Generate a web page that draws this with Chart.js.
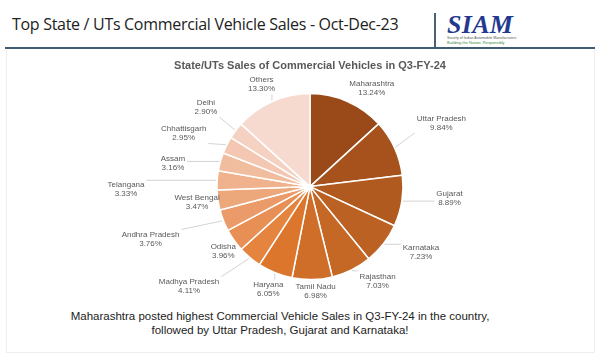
<!DOCTYPE html>
<html>
<head>
<meta charset="utf-8">
<script src="https://cdn.jsdelivr.net/npm/chart.js@4"></script>
<style>
  body { margin: 0; width: 600px; height: 360px; background: #fff; position: relative; overflow: hidden; font-family: "Liberation Sans", Arial, sans-serif; }
  #head { position: absolute; left: 12px; top: 13px; font-family: "Open Sans", sans-serif; font-size: 16px; color: #222; letter-spacing: -0.3px; white-space: nowrap; }
  #sep { position: absolute; left: 434px; top: 13px; width: 1.5px; height: 35px; background: #4a6076; }
  #rule { position: absolute; left: 5px; top: 47px; width: 590px; height: 2px; background: #3f5a73; }
  #box { position: absolute; left: 6px; top: 50px; width: 587px; height: 302px; border: 1px solid #eeeeee; border-top: none; }
  #logo { position: absolute; left: 447px; top: 13px; width: 72px; }
  #logo .big { font-family: "Liberation Serif", serif; font-style: italic; font-weight: bold; font-size: 26px; color: #23388f; line-height: 23px; letter-spacing: 0.3px; }
  #logo .s1 { font-size: 3.6px; color: #555; line-height: 4px; white-space: nowrap; }
  #logo .s2 { font-size: 4px; color: #3b8a3e; line-height: 5px; white-space: nowrap; }
  #cv { position: absolute; left: 60px; top: 56px; }
  #cap { position: absolute; left: 60px; width: 440px; top: 309px; text-align: center; font-size: 11.5px; line-height: 14px; color: #222; }
</style>
</head>
<body>
<div id="head">Top State / UTs Commercial Vehicle Sales - Oct-Dec-23</div>
<div id="sep"></div>
<div id="logo"><div class="big">SIAM</div><div class="s1">Society of Indian Automobile Manufacturers</div><div class="s2">Building the Nation, Responsibly</div></div>
<div id="rule"></div>
<div id="box"></div>
<canvas id="cv" width="500" height="250" style="width:500px;height:250px"></canvas>
<div id="cap">Maharashtra posted highest Commercial Vehicle Sales in Q3-FY-24 in the country,<br>followed by Uttar Pradesh, Gujarat and Karnataka!</div>
<script>
const states = ['Maharashtra', 'Uttar Pradesh', 'Gujarat', 'Karnataka', 'Rajasthan', 'Tamil Nadu', 'Haryana',
  'Madhya Pradesh', 'Odisha', 'Andhra Pradesh', 'West Bengal', 'Telangana', 'Assam', 'Chhattisgarh', 'Delhi', 'Others'];
const shares = [13.24, 9.84, 8.89, 7.23, 7.03, 6.98, 6.05, 4.11, 3.96, 3.76, 3.47, 3.33, 3.16, 2.95, 2.90, 13.30];

const sliceColors = ['#9a4a19', '#a7521c', '#b15a1f', '#bb6123', '#c56826', '#cf6e29', '#dc762d',
  '#e4843f', '#e78f55', '#ea9b69', '#eca77b', '#efb28d', '#f1bd9f', '#f3c7b1', '#f5d1c1', '#f7dacf'];

// label placement: distance from centre and angle nudge (deg)
const labelDist = [116, 146, 140, 129, 116, 105, 111, 157, 108, 168, 114, 184, 139, 137, 131, 113];
const labelNudge = [8.4, -1.1, -4, -7.2, -9.1, -1.7, 0, 10.1, -1.4, 3, 0.5, -4.6, -6, -3.7, 0.4, -1.5];

const outsideLabels = {
  id: 'outsideLabels',
  afterDatasetsDraw(chart) {
    const ctx = chart.ctx;
    const meta = chart.getDatasetMeta(0);
    ctx.save();
    ctx.font = '8px "Liberation Sans", Arial, sans-serif';
    ctx.textAlign = 'center';
    ctx.textBaseline = 'middle';
    meta.data.forEach(function (arc, i) {
      const mid = (arc.startAngle + arc.endAngle) / 2;
      const a = mid + labelNudge[i] * Math.PI / 180;
      const lx = arc.x + Math.cos(a) * labelDist[i];
      const ly = arc.y + Math.sin(a) * labelDist[i];
      const pct = shares[i].toFixed(2) + '%';
      const w = Math.max(ctx.measureText(states[i]).width, ctx.measureText(pct).width) / 2 + 2;
      const h = 10;
      const sx = arc.x + Math.cos(mid) * (arc.outerRadius + 1);
      const sy = arc.y + Math.sin(mid) * (arc.outerRadius + 1);
      const ex = Math.min(Math.max(sx, lx - w), lx + w);
      const ey = Math.min(Math.max(sy, ly - h), ly + h);
      if (Math.hypot(ex - sx, ey - sy) > 4) {
        ctx.strokeStyle = '#c8c8c8';
        ctx.lineWidth = 0.8;
        ctx.beginPath();
        ctx.moveTo(sx, sy);
        ctx.lineTo(ex, ey);
        ctx.stroke();
      }
      ctx.fillStyle = '#595959';
      ctx.fillText(states[i], lx, ly - 4.5);
      ctx.fillText(pct, lx, ly + 4.5);
    });
    ctx.restore();
  }
};

const data = {
  labels: states,
  datasets: [{
    data: shares,
    backgroundColor: sliceColors,
    borderColor: '#ffffff',
    borderWidth: 1.5
  }]
};

const config = {
  type: 'pie',
  data: data,
  options: {
    responsive: false,
    animation: false,
    radius: 93,
    layout: { padding: { top: 3, bottom: 13, left: 20, right: 20 } },
    plugins: {
      legend: { display: false },
      tooltip: { enabled: false },
      title: {
        display: true,
        text: 'State/UTs Sales of Commercial Vehicles in Q3-FY-24',
        color: '#595959',
        font: { family: '"Liberation Sans", Arial, sans-serif', size: 11, weight: 'bold' },
        padding: { top: 0, bottom: 8 }
      }
    }
  },
  plugins: [outsideLabels]
};

const myChart = new Chart(document.getElementById('cv'), config);
</script>
</body>
</html>
